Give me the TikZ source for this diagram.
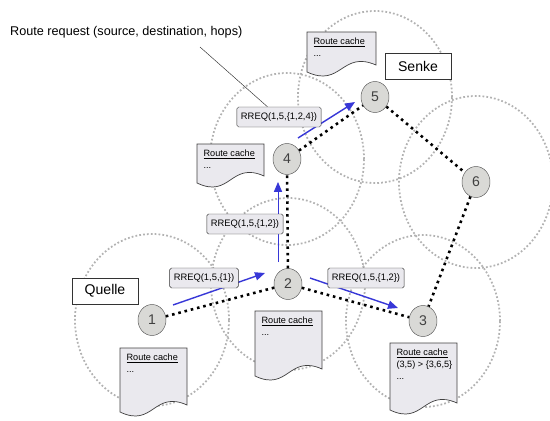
\documentclass[tikz,border=0pt]{standalone}
\usepackage{fontspec}
\setmainfont{Liberation Sans}
\usetikzlibrary{arrows.meta,shapes.geometric,backgrounds}
\definecolor{msgblue}{RGB}{55,55,215}
\definecolor{nodegray}{RGB}{217,217,214}
\definecolor{boxgray}{RGB}{234,233,238}
\tikzset{
  radiorange/.style = {black!30, line width=1.5pt, dash pattern=on 1.5pt off 1.8pt},
  hopline/.style  = {black, line width=2.2pt, dash pattern=on 2.2pt off 3.3pt},
  station/.style  = {ellipse, draw=black!65, fill=nodegray, minimum width=0.84cm,
                     minimum height=0.93cm, inner sep=0pt,
                     font=\fontsize{12}{14}\selectfont, text=black!75},
  rreq/.style     = {draw=black!80, fill=boxgray, rounded corners=1.5pt,
                     minimum height=0.6cm, inner xsep=3.5pt,
                     font=\fontsize{8}{9}\selectfont},
  rolebox/.style  = {draw=black!80, fill=white, minimum width=1.98cm,
                     minimum height=0.79cm, font=\fontsize{12}{14}\selectfont},
  msgarr/.style   = {msgblue, line width=1.2pt, -{Triangle[length=8.5pt,width=7pt]}},
  cachebox/.style = {draw=black!75, fill=boxgray, line width=0.6pt},
  cachetxt/.style = {anchor=north west, align=left, inner sep=2pt,
                     font=\fontsize{7.8}{9.5}\selectfont}
}
% route cache sheet: name, x, y, width, height, lines below the title
\newcommand{\rcache}[6]{%
  \draw[cachebox] (#2,#3) -- ({#2+#4},#3) -- ({#2+#4},{#3+#5-7})
    .. controls ({#2+0.5*#4},{#3+#5-22}) and ({#2+0.5*#4},{#3+#5+16}) .. (#2,{#3+#5})
    -- cycle;
  \node[cachetxt] (#1) at ({#2+4},{#3+3}) {\underline{Route cache}\\[1pt]#6};
}

\begin{document}
\begin{tikzpicture}[x=0.03cm,y=-0.03cm]
  \useasboundingbox (0,0) rectangle (550,421);
  % stations
  \node[station] (n1) at (152,320) {1};
  \node[station] (n2) at (288,284) {2};
  \node[station] (n3) at (423,321) {3};
  \node[station] (n4) at (287,159) {4};
  \node[station] (n5) at (375,97)  {5};
  \node[station] (n6) at (476,182) {6};
  % radio ranges
  \begin{scope}[on background layer]
    \foreach \n in {1,...,6}
      { \draw[radiorange] (n\n) ellipse [x radius=2.31cm, y radius=2.58cm]; }
  \end{scope}
  % route caches
  \rcache{c1}{120}{348}{67}{64}{...}
  \rcache{c2}{255}{311}{67}{65}{...}
  \rcache{c3}{390}{343}{67}{67}{(3,5) > \{3,6,5\}\\[1pt]...}
  \rcache{c4}{197}{144}{67}{39}{...}
  \rcache{c5}{307}{32}{69}{40}{...}
  % hops of the route
  \draw[hopline] (n1) -- (n2);
  \draw[hopline] (n2) -- (n4);
  \draw[hopline] (n2) -- (n3);
  \draw[hopline] (n4) -- (n5);
  \draw[hopline] (n5) -- (n6);
  \draw[hopline] (n6) -- (n3);
  % request messages
  \draw[msgarr] (173,305) -- (265,273);
  \draw[msgarr, line width=0.7pt] (278,262) -- (278,182);
  \draw[msgarr] (298,138) -- (355,102);
  \draw[msgarr] (310,278) -- (398,308);
  \node[rreq] (r1) at (204,278) {RREQ(1,5,\{1\})};
  \node[rreq] (r2) at (245,224) {RREQ(1,5,\{1,2\})};
  \node[rreq] (r4) at (279,117) {RREQ(1,5,\{1,2,4\})};
  \node[rreq] (r3) at (366,278) {RREQ(1,5,\{1,2\})};
  % source and sink
  \node[rolebox] (src) at (105,291) {Quelle};
  \node[rolebox] (dst) at (418,66)  {Senke};
  \node[anchor=west, inner sep=0pt, font=\fontsize{10.8}{13}\selectfont] (reqtext)
    at (10,32) {Route request (source, destination, hops)};
  \coordinate (ptr) at (200,47);
  \draw[black!80, thin] (ptr) -- (r4);
\end{tikzpicture}
\end{document}
